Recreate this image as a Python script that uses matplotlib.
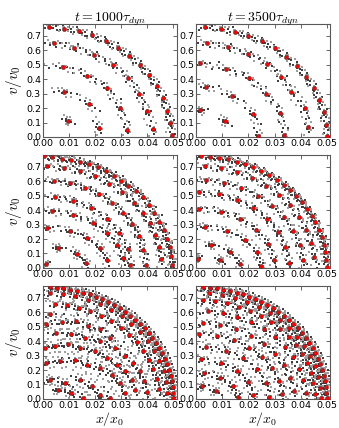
import numpy as np
import matplotlib
matplotlib.use("Agg")
from matplotlib import pyplot as plt

plt.rcParams['mathtext.fontset'] = 'cm'
plt.rcParams['font.family'] = ['DejaVu Sans']

titles = [r'$t=1000\tau_{dyn}$', r'$t=3500\tau_{dyn}$']
xticks = [0.00, 0.01, 0.02, 0.03, 0.04, 0.05]
yticks = [0.0, 0.1, 0.2, 0.3, 0.4, 0.5, 0.6, 0.7]

# red markers (x/x0, v/v0), one pair of lists per panel
# row a, t=1000
xa1 = [0.0023, 0.0081, 0.0136, 0.0188, 0.0241, 0.0287, 0.0331, 0.0372, 0.0408, 0.0436, 0.0460, 0.0477, 0.0487, 0.0494,
       0.0042, 0.0119, 0.0196, 0.0267, 0.0327, 0.0368, 0.0397, 0.0421,
       0.0077, 0.0169, 0.0246, 0.0295, 0.0321,
       0.0081, 0.0177, 0.0214,
       0.0096]
va1 = [0.765, 0.751, 0.733, 0.705, 0.663, 0.616, 0.563, 0.500, 0.426, 0.351, 0.270, 0.179, 0.098, 0.012,
       0.651, 0.619, 0.570, 0.498, 0.412, 0.300, 0.179, 0.056,
       0.484, 0.423, 0.337, 0.198, 0.051,
       0.314, 0.230, 0.063,
       0.114]
# row a, t=3500
xa2 = [0.0035, 0.0095, 0.0149, 0.0200, 0.0253, 0.0300, 0.0345, 0.0387, 0.0422, 0.0450, 0.0471, 0.0488, 0.0499, 0.0500,
       0.0041, 0.0123, 0.0200, 0.0272, 0.0326, 0.0364, 0.0415, 0.0428,
       0.0015, 0.0114, 0.0204, 0.0268, 0.0321, 0.0338,
       0.0037, 0.0137, 0.0217, 0.0238,
       0.0015, 0.0110]
va2 = [0.765, 0.749, 0.730, 0.700, 0.663, 0.616, 0.556, 0.491, 0.416, 0.340, 0.258, 0.174, 0.086, 0.005,
       0.651, 0.621, 0.574, 0.509, 0.416, 0.312, 0.198, 0.067,
       0.512, 0.470, 0.407, 0.300, 0.167, 0.016,
       0.349, 0.284, 0.156, 0.005,
       0.184, 0.109]
# row b, t=1000
xb1 = [0.0003, 0.0036, 0.0074, 0.0106, 0.0141, 0.0177, 0.0209, 0.0241, 0.0272, 0.0297, 0.0327, 0.0356, 0.0385, 0.0406,
       0.0427, 0.0446, 0.0462, 0.0474, 0.0485, 0.0492, 0.0496,
       0.0016, 0.0079, 0.0141, 0.0199, 0.0254, 0.0304, 0.0349, 0.0382, 0.0409, 0.0430, 0.0445, 0.0453,
       0.0041, 0.0102, 0.0160, 0.0214, 0.0263, 0.0305, 0.0340, 0.0367, 0.0384, 0.0393,
       0.0047, 0.0115, 0.0183, 0.0245, 0.0293, 0.0324, 0.0335,
       0.0033, 0.0116, 0.0191, 0.0244, 0.0283, 0.0305,
       0.0017, 0.0102, 0.0167, 0.0217, 0.0245,
       0.0058, 0.0130, 0.0166,
       0.0013]
vb1 = [0.774, 0.770, 0.758, 0.751, 0.737, 0.721, 0.698, 0.672, 0.640, 0.605, 0.570, 0.535, 0.491, 0.437,
       0.379, 0.321, 0.263, 0.198, 0.142, 0.081, 0.019,
       0.704, 0.694, 0.670, 0.634, 0.584, 0.524, 0.453, 0.384, 0.309, 0.230, 0.147, 0.061,
       0.605, 0.587, 0.556, 0.510, 0.452, 0.382, 0.304, 0.218, 0.126, 0.021,
       0.492, 0.467, 0.417, 0.339, 0.241, 0.129, 0.017,
       0.395, 0.368, 0.313, 0.245, 0.162, 0.069,
       0.277, 0.254, 0.207, 0.139, 0.058,
       0.141, 0.096, 0.031,
       0.030]
# row b, t=3500
xb2 = [0.0018, 0.0053, 0.0087, 0.0121, 0.0155, 0.0188, 0.0219, 0.0250, 0.0280, 0.0308, 0.0335, 0.0360, 0.0383, 0.0405,
       0.0424, 0.0442, 0.0457, 0.0470, 0.0481, 0.0489, 0.0495, 0.0499, 0.0500,
       0.0032, 0.0095, 0.0156, 0.0213, 0.0268, 0.0316, 0.0359, 0.0394, 0.0422, 0.0441, 0.0453,
       0.0036, 0.0106, 0.0173, 0.0235, 0.0290, 0.0336, 0.0371, 0.0396, 0.0408,
       0.0012, 0.0086, 0.0155, 0.0219, 0.0272, 0.0313, 0.0341, 0.0354,
       0.0010, 0.0093, 0.0168, 0.0230, 0.0274, 0.0297,
       0.0035, 0.0117, 0.0186, 0.0232, 0.0250,
       0.0058, 0.0130, 0.0167,
       0.0008, 0.0092]
vb2 = [0.774, 0.771, 0.763, 0.752, 0.737, 0.718, 0.697, 0.671, 0.642, 0.611, 0.576, 0.539, 0.498, 0.456,
       0.411, 0.363, 0.315, 0.265, 0.214, 0.161, 0.108, 0.054, 0.005,
       0.704, 0.689, 0.663, 0.623, 0.570, 0.507, 0.434, 0.353, 0.264, 0.171, 0.074,
       0.608, 0.589, 0.553, 0.500, 0.431, 0.350, 0.258, 0.158, 0.053,
       0.525, 0.509, 0.472, 0.414, 0.338, 0.246, 0.145, 0.037,
       0.410, 0.390, 0.340, 0.264, 0.167, 0.057,
       0.287, 0.256, 0.194, 0.109, 0.010,
       0.160, 0.109, 0.030,
       0.065, 0.053]
# outer ring of row c
x_outer_c = [0.0026, 0.0052, 0.0078, 0.0104, 0.0129, 0.0155, 0.0179, 0.0203, 0.0227, 0.0250, 0.0272, 0.0294, 0.0315,
             0.0335, 0.0354, 0.0372, 0.0389, 0.0405, 0.0419, 0.0433, 0.0446, 0.0457, 0.0467, 0.0476, 0.0483, 0.0489,
             0.0494, 0.0497, 0.0499, 0.0500]
v_outer_c = [0.774, 0.771, 0.765, 0.758, 0.749, 0.737, 0.724, 0.708, 0.691, 0.671, 0.650, 0.627, 0.602,
             0.576, 0.548, 0.519, 0.488, 0.456, 0.422, 0.388, 0.352, 0.315, 0.278, 0.239, 0.201, 0.161,
             0.121, 0.081, 0.041, 0.003]
# row c, t=1000
xc1 = x_outer_c + [
    0.0025, 0.0075, 0.0124, 0.0171, 0.0217, 0.0260, 0.0301, 0.0338, 0.0371, 0.0401, 0.0426, 0.0446, 0.0462, 0.0472, 0.0477,
    0.0047, 0.0093, 0.0138, 0.0181, 0.0223, 0.0262, 0.0298, 0.0331, 0.0360, 0.0385, 0.0407, 0.0423, 0.0435, 0.0443,
    0.0026, 0.0013, 0.0071, 0.0128, 0.0173, 0.0218, 0.0256, 0.0051, 0.0109, 0.0160, 0.0218, 0.0276, 0.0314, 0.0346,
    0.0372, 0.0387, 0.0397, 0.0006, 0.0045, 0.0096, 0.0141, 0.0199, 0.0244, 0.0282, 0.0314, 0.0340, 0.0353, 0.0013,
    0.0064, 0.0122, 0.0167, 0.0218, 0.0263, 0.0295, 0.0314, 0.0026, 0.0083, 0.0141, 0.0186, 0.0218, 0.0058, 0.0109,
    0.0154, 0.0256]
vc1 = v_outer_c + [
    0.736, 0.728, 0.712, 0.688, 0.657, 0.618, 0.573, 0.521, 0.464, 0.401, 0.335, 0.264, 0.191, 0.115, 0.039,
    0.661, 0.650, 0.632, 0.607, 0.576, 0.538, 0.494, 0.445, 0.391, 0.333, 0.270, 0.205, 0.138, 0.069,
    0.586, 0.516, 0.533, 0.540, 0.505, 0.486, 0.423, 0.458, 0.447, 0.423, 0.400, 0.353, 0.295, 0.249,
    0.191, 0.121, 0.051, 0.353, 0.365, 0.377, 0.353, 0.330, 0.284, 0.237, 0.191, 0.133, 0.063, 0.249,
    0.260, 0.272, 0.237, 0.214, 0.167, 0.109, 0.040, 0.133, 0.109, 0.133, 0.086, 0.028, 0.063, 0.040,
    0.005, 0.005]
# row c, t=3500
xc2 = x_outer_c + [
    0.0050, 0.0099, 0.0148, 0.0194, 0.0239, 0.0281, 0.0320, 0.0355, 0.0387, 0.0414, 0.0437, 0.0455, 0.0468, 0.0475, 0.0478,
    0.0024, 0.0071, 0.0118, 0.0163, 0.0207, 0.0248, 0.0286, 0.0322, 0.0354, 0.0382, 0.0405, 0.0425, 0.0439, 0.0449, 0.0454,
    0.0044, 0.0102, 0.0158, 0.0210, 0.0259, 0.0302, 0.0340, 0.0371, 0.0395, 0.0411, 0.0419,
    0.0026, 0.0091, 0.0153, 0.0210, 0.0261, 0.0303, 0.0337, 0.0360, 0.0373,
    0.0012, 0.0080, 0.0145, 0.0203, 0.0253, 0.0291, 0.0317, 0.0329,
    0.0039, 0.0114, 0.0180, 0.0232, 0.0266, 0.0280,
    0.0019, 0.0093, 0.0156, 0.0199, 0.0219,
    0.0028, 0.0092, 0.0139, 0.0159,
    0.0023, 0.0074]
vc2 = v_outer_c + [
    0.731, 0.719, 0.699, 0.671, 0.637, 0.595, 0.546, 0.492, 0.432, 0.368, 0.299, 0.227, 0.153, 0.077, 0.003,
    0.684, 0.677, 0.662, 0.640, 0.610, 0.575, 0.532, 0.484, 0.431, 0.373, 0.311, 0.246, 0.177, 0.107, 0.036,
    0.612, 0.597, 0.570, 0.533, 0.485, 0.427, 0.362, 0.288, 0.210, 0.128, 0.043,
    0.529, 0.514, 0.484, 0.439, 0.381, 0.312, 0.232, 0.146, 0.056,
    0.450, 0.437, 0.405, 0.355, 0.289, 0.211, 0.124, 0.032,
    0.361, 0.334, 0.280, 0.204, 0.113, 0.013,
    0.274, 0.249, 0.194, 0.116, 0.024,
    0.177, 0.147, 0.090, 0.016,
    0.087, 0.052]

panels = [[(xa1, va1), (xa2, va2)],
          [(xb1, vb1), (xb2, vb2)],
          [(xc1, vc1), (xc2, vc2)]]

# small tracer dots: short, uneven trails along each ring around the red markers
trail_dphi = np.array([-0.21, -0.15, -0.11, -0.08, -0.05, -0.03, -0.012, 0.014, 0.033, 0.055, 0.085, 0.12, 0.17, 0.23])
trail_dr = np.array([0.03, -0.02, 0.012, -0.035, 0.006, 0.02, -0.01, 0.009, -0.017, 0.028, -0.005, 0.015, -0.026, 0.009])
X0, V0 = 0.05, 0.775


def trails(x, v, spread):
    u = np.asarray(x) / X0
    w = np.asarray(v) / V0
    r = np.hypot(u, w)
    ph = np.arctan2(w, u)
    rr = r[:, None] + spread * trail_dr[None, :]
    pp = ph[:, None] + spread * trail_dphi[None, :]
    return X0 * rr * np.cos(pp), V0 * rr * np.sin(pp)


fig = plt.figure(figsize=(3.39, 4.28), dpi=100)
lefts = [0.127, 0.579]
bottoms = [0.680, 0.374, 0.068]
w_ax, h_ax = 0.394, 0.263

for i in range(3):
    for j in range(2):
        ax = fig.add_axes([lefts[j], bottoms[i], w_ax, h_ax])
        x, v = panels[i][j]
        spread = 1.0 if i < 2 else 1.3
        tx, tv = trails(x, v, spread)
        ax.scatter(tx[:, ::2].ravel(), tv[:, ::2].ravel(), s=0.7, marker='s', c='0.25', lw=0, zorder=2)
        ax.scatter(tx[:, 1::2].ravel(), tv[:, 1::2].ravel(), s=0.7, marker='s', c='0.62', lw=0, zorder=2)
        ax.plot(x, v, 'o', color='red', ms=3.0, mec='0.2', mew=0.35, zorder=3)

        ax.set_xlim(0, 0.0512)
        ax.set_ylim(0, 0.78)
        ax.set_xticks(xticks)
        ax.set_xticklabels(['%.2f' % t for t in xticks])
        ax.set_yticks(yticks)
        ax.set_yticklabels(['%.1f' % t for t in yticks], va='center_baseline')
        ax.tick_params(direction='in', length=3, width=0.6, top=True, right=True,
                       labelsize=6.8, pad=1.5, color='0.3')
        for s in ax.spines.values():
            s.set_color('0.35')
            s.set_linewidth(0.8)
        if i == 0:
            ax.set_title(titles[j], fontsize=10, pad=2)
        if j == 0:
            ax.set_ylabel(r'$v/v_0$', fontsize=11, labelpad=1)
        if i == 2:
            ax.set_xlabel(r'$x/x_0$', fontsize=10, labelpad=0)

fig.savefig('out.png', dpi=100)
